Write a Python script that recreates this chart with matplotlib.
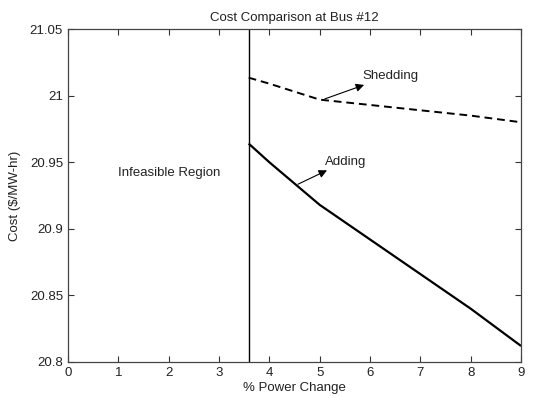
import matplotlib
matplotlib.use("Agg")
import matplotlib.pyplot as plt

plt.rcParams['font.family'] = ['Liberation Sans', 'DejaVu Sans']

x_pts = [3.59, 4, 5, 6, 7, 8, 9]
adding = [20.964, 20.950, 20.918, 20.892, 20.866, 20.840, 20.812]
shedding = [21.0135, 21.009, 20.997, 20.993, 20.989, 20.985, 20.980]
boundary_x = 3.59
xticks = [0, 1, 2, 3, 4, 5, 6, 7, 8, 9]
yticks = [20.8, 20.85, 20.9, 20.95, 21.0, 21.05]
ytick_labels = ['20.8', '20.85', '20.9', '20.95', '21', '21.05']

fig = plt.figure(figsize=(5.52, 3.98), dpi=100)
ax = fig.add_axes([0.123, 0.0905, 0.821, 0.8365])

ax.plot(x_pts, adding, color='black', lw=1.6, solid_capstyle='butt')
ax.plot(x_pts, shedding, color='black', lw=1.4, ls=(0, (4, 2.5)))
ax.axvline(boundary_x, color='black', lw=1.0)

ax.set_xlim(0, 9)
ax.set_ylim(20.8, 21.05)
ax.set_xticks(xticks)
ax.set_yticks(yticks)
ax.set_yticklabels(ytick_labels)
ax.tick_params(direction='in', top=True, right=True, labelsize=9.5, length=4.5, colors='#333333', labelcolor='#222222')
for s in ax.spines.values():
    s.set_color('#444444')
    s.set_linewidth(0.9)

ax.set_title('Cost Comparison at Bus #12', fontsize=9.5, color='#222222', pad=6)
ax.set_xlabel('% Power Change', fontsize=9.5, color='#222222', labelpad=2)
ax.set_ylabel('Cost ($/MW-hr)', fontsize=9.5, color='#222222', labelpad=6)

ax.text(0.99, 20.942, 'Infeasible Region', fontsize=9.5, va='center', ha='left', color='#222222')
ax.annotate('Shedding', xy=(5.1, 20.9975), xytext=(5.84, 21.015),
            fontsize=9.5, va='center', ha='left', color='#222222',
            arrowprops=dict(arrowstyle='<|-', color='black', lw=0.8, mutation_scale=12,
                            shrinkA=1, shrinkB=0))
ax.annotate('Adding', xy=(4.57, 20.9335), xytext=(5.1, 20.9505),
            fontsize=9.5, va='center', ha='left', color='#222222',
            arrowprops=dict(arrowstyle='<|-', color='black', lw=0.8, mutation_scale=12,
                            shrinkA=0, shrinkB=0))

fig.savefig('out.png', dpi=100)
